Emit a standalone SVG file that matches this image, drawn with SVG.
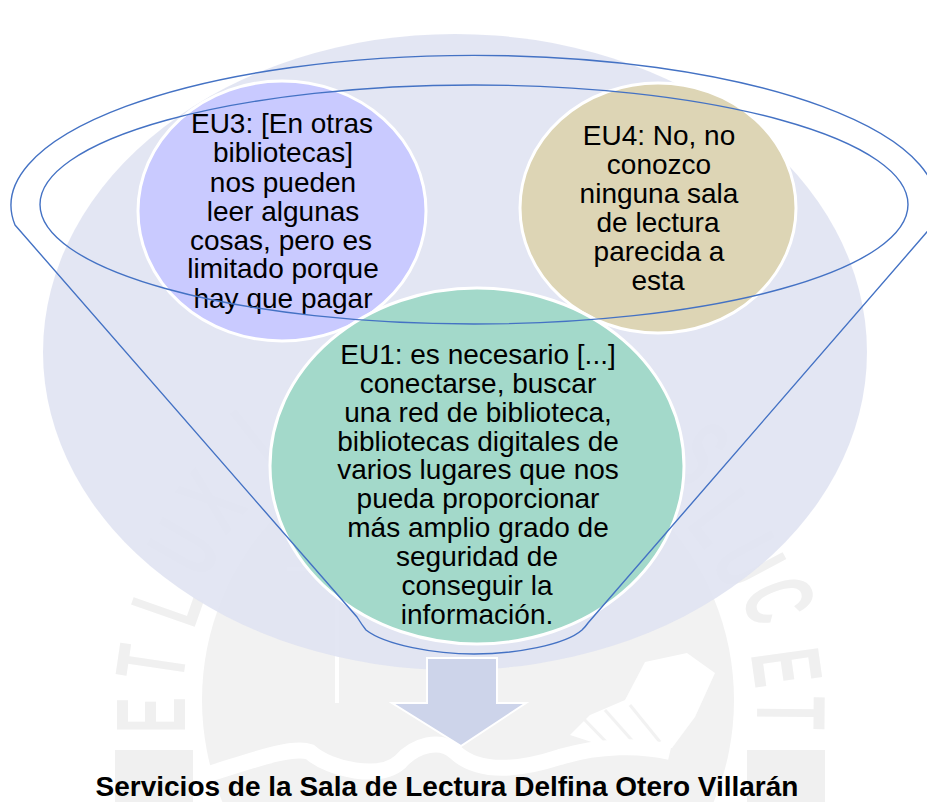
<svg xmlns="http://www.w3.org/2000/svg" width="927" height="802" viewBox="0 0 927 802">
<style>
text{font-family:"Liberation Sans",Arial,sans-serif;fill:#000;text-anchor:middle}
.n{font-size:28px}
.wm{font-size:98px;font-weight:700;fill:#f0f0f0}
.c{stroke:#fff;stroke-width:3}
.f{fill:none;stroke:#4472c4;stroke-width:1.4}
.ws{fill:none;stroke:#fff}
</style>
<rect width="927" height="802" fill="#fff"/>
<g id="watermark">
<circle cx="468" cy="700" r="266" fill="#f2f2f2"/>
<path d="M645 662L687 653L715 673L695 717L672 748L610 748L570 735L590 715L625 700Z" fill="#fff"/>
<path d="M560 677C590 672 615 680 623 698C600 705 575 700 560 677Z" fill="#f2f2f2"/>
<path d="M580 715L612 748M605 710L637 746M630 705L660 742" fill="none" stroke="#f2f2f2" stroke-width="3"/>
<path class="ws" stroke-width="16" d="M205 775C240 765 290 745 310 752C330 770 380 780 400 762C415 745 440 738 455 752C480 775 520 770 560 757C600 745 640 745 670 752"/>
<path class="ws" stroke-width="4" d="M337 600V703"/>
<path class="ws" stroke-width="3" d="M287 569H323"/>
<path d="M115 750H193V802H115ZM747 750H825V802H747Z" fill="#f0f0f0"/>
<text class="wm" transform="translate(150 715) rotate(-90) scale(.55 1)" y="35">E</text>
<text class="wm" transform="translate(150 663) rotate(-81.600) scale(.55 1)" y="35">T</text>
<text class="wm" transform="translate(166 603) rotate(-70.600) scale(.55 1)" y="35">L</text>
<text class="wm" transform="translate(183 547) rotate(-60) scale(.55 1)" y="35">U</text>
<text class="wm" transform="translate(210 500) rotate(-51) scale(.55 1)" y="35">X</text>
<text class="wm" transform="translate(253 437) rotate(-38.500) scale(.55 1)" y="35">I</text>
<text class="wm" transform="translate(700 453) rotate(41.800) scale(.55 1)" y="35">S</text>
<text class="wm" transform="translate(723 517) rotate(52.700) scale(.55 1)" y="35">L</text>
<text class="wm" transform="translate(750 560) rotate(61.800) scale(.55 1)" y="35">U</text>
<text class="wm" transform="translate(780 600) rotate(70.500) scale(.55 1)" y="35">C</text>
<text class="wm" transform="translate(788 667) rotate(82) scale(.55 1)" y="35">E</text>
<text class="wm" transform="translate(792 713) rotate(90.500) scale(.55 1)" y="35">T</text>
</g>
<g id="background"><ellipse cx="455" cy="352" rx="412" ry="318" fill="#dfe3f1" fill-opacity=".88"/></g>
<g id="eu3"><ellipse class="c" cx="282" cy="211" rx="144" ry="130" fill="#c9caff"/>
<text class="n"><tspan x="282" y="133">EU3: [En otras</tspan><tspan x="283" y="162">bibliotecas]</tspan><tspan x="283" y="192">nos pueden</tspan><tspan x="283" y="221">leer algunas</tspan><tspan x="281" y="250">cosas, pero es</tspan><tspan x="283" y="278">limitado porque</tspan><tspan x="283" y="308">hay que pagar</tspan></text></g>
<g id="eu4"><ellipse class="c" cx="658" cy="208" rx="138" ry="125" fill="#ddd5b5"/>
<text class="n"><tspan x="659" y="145">EU4: No, no</tspan><tspan x="659" y="174">conozco</tspan><tspan x="659" y="203">ninguna sala</tspan><tspan x="658" y="232">de lectura</tspan><tspan x="659" y="261">parecida a</tspan><tspan x="658" y="290">esta</tspan></text></g>
<g id="eu1"><ellipse class="c" cx="477" cy="466" rx="207" ry="178" fill="#a3d9ca"/>
<text class="n"><tspan x="478" y="364">EU1: es necesario [...]</tspan><tspan x="478" y="393">conectarse, buscar</tspan><tspan x="478" y="422">una red de biblioteca,</tspan><tspan x="478" y="451">bibliotecas digitales de</tspan><tspan x="478" y="479">varios lugares que nos</tspan><tspan x="478" y="508">pueda proporcionar</tspan><tspan x="478" y="537">más amplio grado de</tspan><tspan x="477" y="566">seguridad de</tspan><tspan x="477" y="595">conseguir la</tspan><tspan x="477" y="624">información.</tspan></text></g>
<g id="connectors">
<ellipse class="f" cx="474" cy="204.500" rx="434" ry="119.500"/>
<path class="f" d="M15 225L357 617Q362 625 366 630C385 645 435 654 474 654C515 654 565 645 582 630Q586 626 588 623L933 225A463 150 0 1 0 15 225Z"/>
</g>
<g id="arrow"><path d="M427 658H497V703H526L461 746L392 703H427Z" fill="#cdd4ea" stroke="#fff" stroke-width="2"/></g>
<g id="caption"><text x="447" y="796" font-size="28" font-weight="700">Servicios de la Sala de Lectura Delfina Otero Villarán</text></g>
</svg>
